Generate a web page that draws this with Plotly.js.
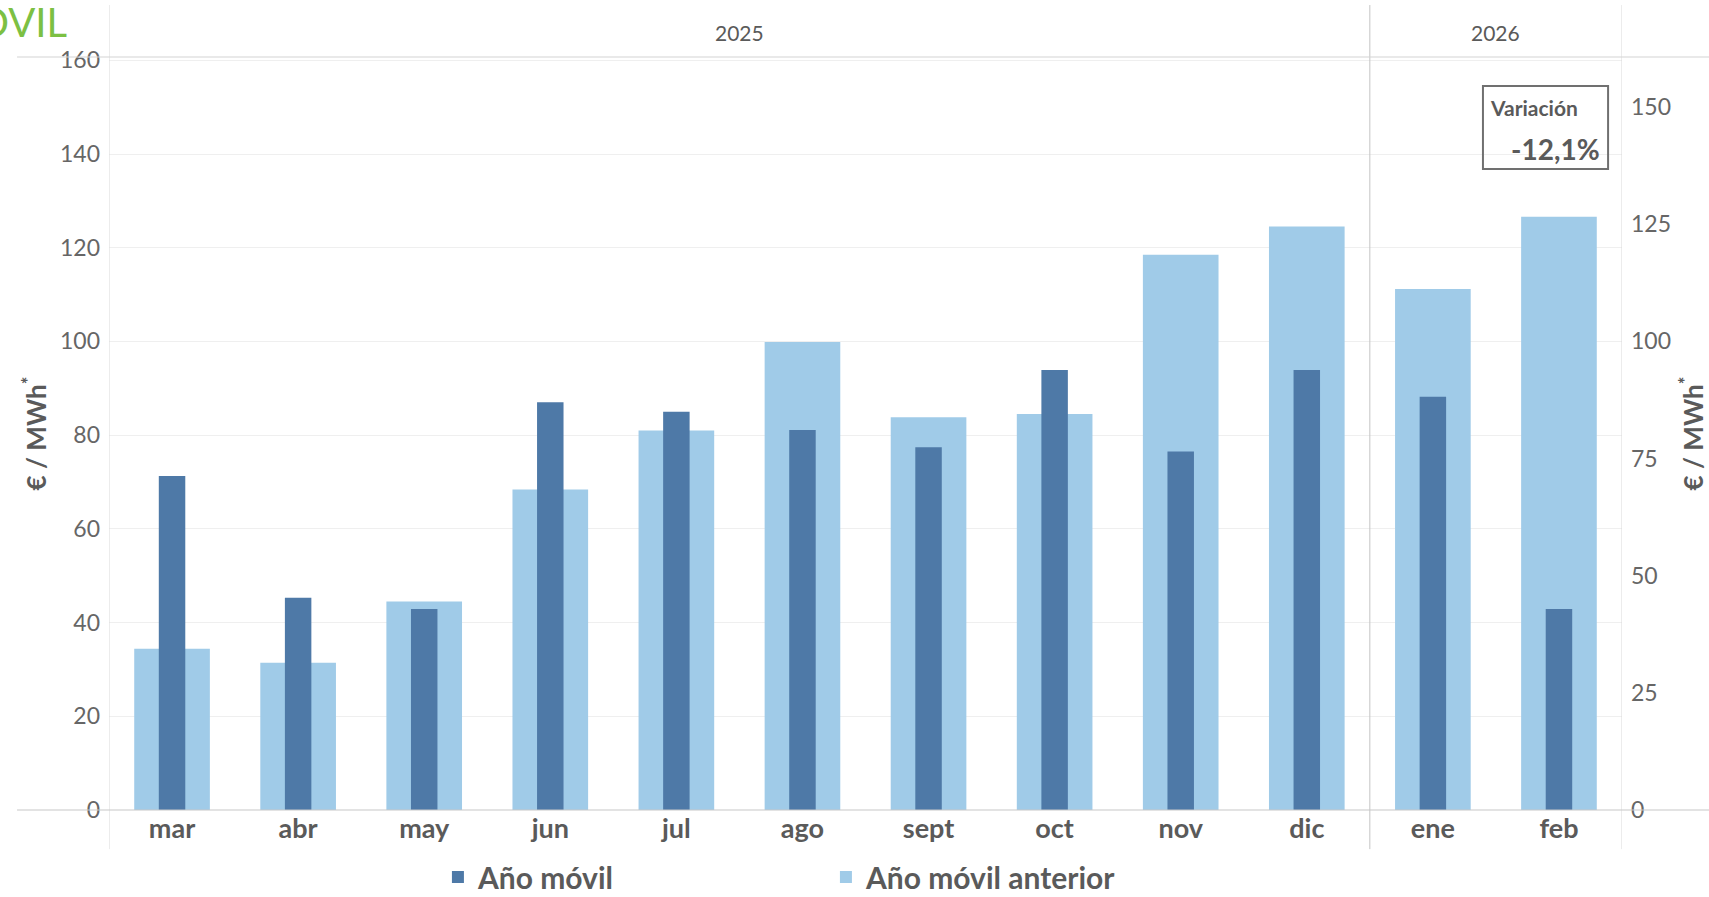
<!DOCTYPE html>
<html>
<head>
<meta charset="utf-8">
<script src="https://cdn.plot.ly/plotly-3.0.1.min.js"></script>
<style>
  html, body { margin: 0; padding: 0; background: #ffffff; }
  #chart { width: 1709px; height: 897px; }
</style>
</head>
<body>
<div id="chart"></div>
<script>
// ---- Data ----
const months = ['mar', 'abr', 'may', 'jun', 'jul', 'ago', 'sept', 'oct', 'nov', 'dic', 'ene', 'feb'];
const anoMovil = [71.3, 45.3, 42.9, 87.0, 85.0, 81.1, 77.4, 93.9, 76.5, 93.9, 88.2, 42.9];
const anoMovilAnterior = [34.4, 31.4, 44.5, 68.4, 81.0, 99.9, 83.8, 84.5, 118.5, 124.5, 111.2, 126.6];
const years = ['2025', '2026'];
const monthsPerYear = [10, 2];
const leftTicks = [0, 20, 40, 60, 80, 100, 120, 140, 160];
const rightTicks = [0, 25, 50, 75, 100, 125, 150];
const variacionLabel = 'Variación';
const variacionValue = '-12,1%';
const titleText = 'AÑO MÓVIL';

// ---- Styling ----
const DARK = '#4e79a7';
const LIGHT = '#a0cbe8';
const TXT = '#5a5a5a';
const FONT = 'Lato, "Open Sans", sans-serif';
const YMAX = 160.7;

const traces = [
  {
    type: 'bar', name: 'Año móvil anterior', x: months, y: anoMovilAnterior,
    marker: { color: LIGHT }, width: 0.6, yaxis: 'y', legendrank: 2,
    hoverinfo: 'x+y+name'
  },
  {
    type: 'bar', name: 'Año móvil', x: months, y: anoMovil,
    marker: { color: DARK }, width: 0.21, yaxis: 'y2', legendrank: 1,
    hoverinfo: 'x+y+name'
  }
];

// year boundaries in category coordinates
const shapes = [];
const annotations = [];
let start = -0.5;
const bounds = [start];
years.forEach((yr, i) => {
  const end = start + monthsPerYear[i];
  annotations.push({
    xref: 'x', yref: 'paper', x: (start + end) / 2, y: 1.032,
    text: yr, showarrow: false, xanchor: 'center', yanchor: 'middle',
    font: { family: FONT, size: 21, color: TXT }
  });
  bounds.push(end);
  start = end;
});
bounds.forEach((b, i) => {
  shapes.push({
    type: 'line', xref: 'x', yref: 'paper', x0: b, x1: b, y0: -0.052, y1: 1.069,
    line: { color: i === 1 ? '#c4c4c4' : '#d9d9d9', width: 1 }, layer: 'above'
  });
});
// header line & baseline
shapes.push({ type: 'line', xref: 'paper', yref: 'paper', x0: -0.0608, x1: 1.06, y0: 1.0, y1: 1.0,
  line: { color: '#d4d4d4', width: 1.2 }, layer: 'above' });
shapes.push({ type: 'line', xref: 'paper', yref: 'paper', x0: -0.0608, x1: 1.06, y0: 0, y1: 0,
  line: { color: '#c8c8c8', width: 1.2 }, layer: 'above' });
// variación box
shapes.push({ type: 'rect', xref: 'paper', yref: 'paper', x0: 0.9081, x1: 0.9908, y0: 0.8513, y1: 0.9615,
  line: { color: '#707070', width: 2 }, fillcolor: 'rgba(255,255,255,0)', layer: 'above' });

annotations.push({
  xref: 'paper', yref: 'paper', x: 0.9115, y: 0.9325, xanchor: 'left', yanchor: 'middle',
  text: '<b>' + variacionLabel + '</b>', showarrow: false,
  font: { family: FONT, size: 21, color: TXT }
});
annotations.push({
  xref: 'paper', yref: 'paper', x: 0.9865, y: 0.8775, xanchor: 'right', yanchor: 'middle',
  text: '<b>' + variacionValue + '</b>', showarrow: false,
  font: { family: FONT, size: 28, color: TXT }
});
annotations.push({
  xref: 'paper', yref: 'paper', x: -0.0262, y: 1.047, xanchor: 'right', yanchor: 'middle',
  text: titleText, showarrow: false,
  font: { family: FONT, size: 40, color: '#7cc043' }
});

function yTitle(standoff) {
  return { text: '<b>€ / MWh<sup>*</sup></b>', font: { family: FONT, size: 26, color: TXT }, standoff: standoff };
}

const layout = {
  width: 1709, height: 897,
  margin: { l: 109, r: 87, t: 57, b: 87, pad: 0, autoexpand: false },
  paper_bgcolor: '#ffffff', plot_bgcolor: '#ffffff',
  barmode: 'overlay',
  showlegend: true,
  legend: {
    orientation: 'h', x: 0.2174, xanchor: 'left', y: -0.089, yanchor: 'middle',
    font: { family: FONT, size: 30, color: TXT, weight: 700 },
    entrywidth: 343, traceorder: 'normal', bgcolor: 'rgba(0,0,0,0)'
  },
  xaxis: {
    type: 'category', range: [-0.5, 11.5], showgrid: false, zeroline: false, showline: false,
    ticks: '', tickfont: { family: FONT, size: 27, color: TXT, weight: 700 }, fixedrange: true
  },
  yaxis: {
    range: [0, YMAX], tickvals: leftTicks, showgrid: true, gridcolor: '#efefef', gridwidth: 1,
    zeroline: false, showline: false, ticks: '', ticklabelstandoff: 8,
    tickfont: { family: FONT, size: 23, color: '#666666' },
    title: yTitle(5), automargin: false
  },
  yaxis2: {
    range: [0, YMAX], tickvals: rightTicks, overlaying: 'y', side: 'right', showgrid: false,
    zeroline: false, showline: false, ticks: '', ticklabelstandoff: 8,
    tickfont: { family: FONT, size: 23, color: '#666666' },
    title: yTitle(21), automargin: false
  },
  shapes: shapes,
  annotations: annotations
};

Plotly.newPlot('chart', traces, layout, { displayModeBar: false, staticPlot: false });
</script>
</body>
</html>
